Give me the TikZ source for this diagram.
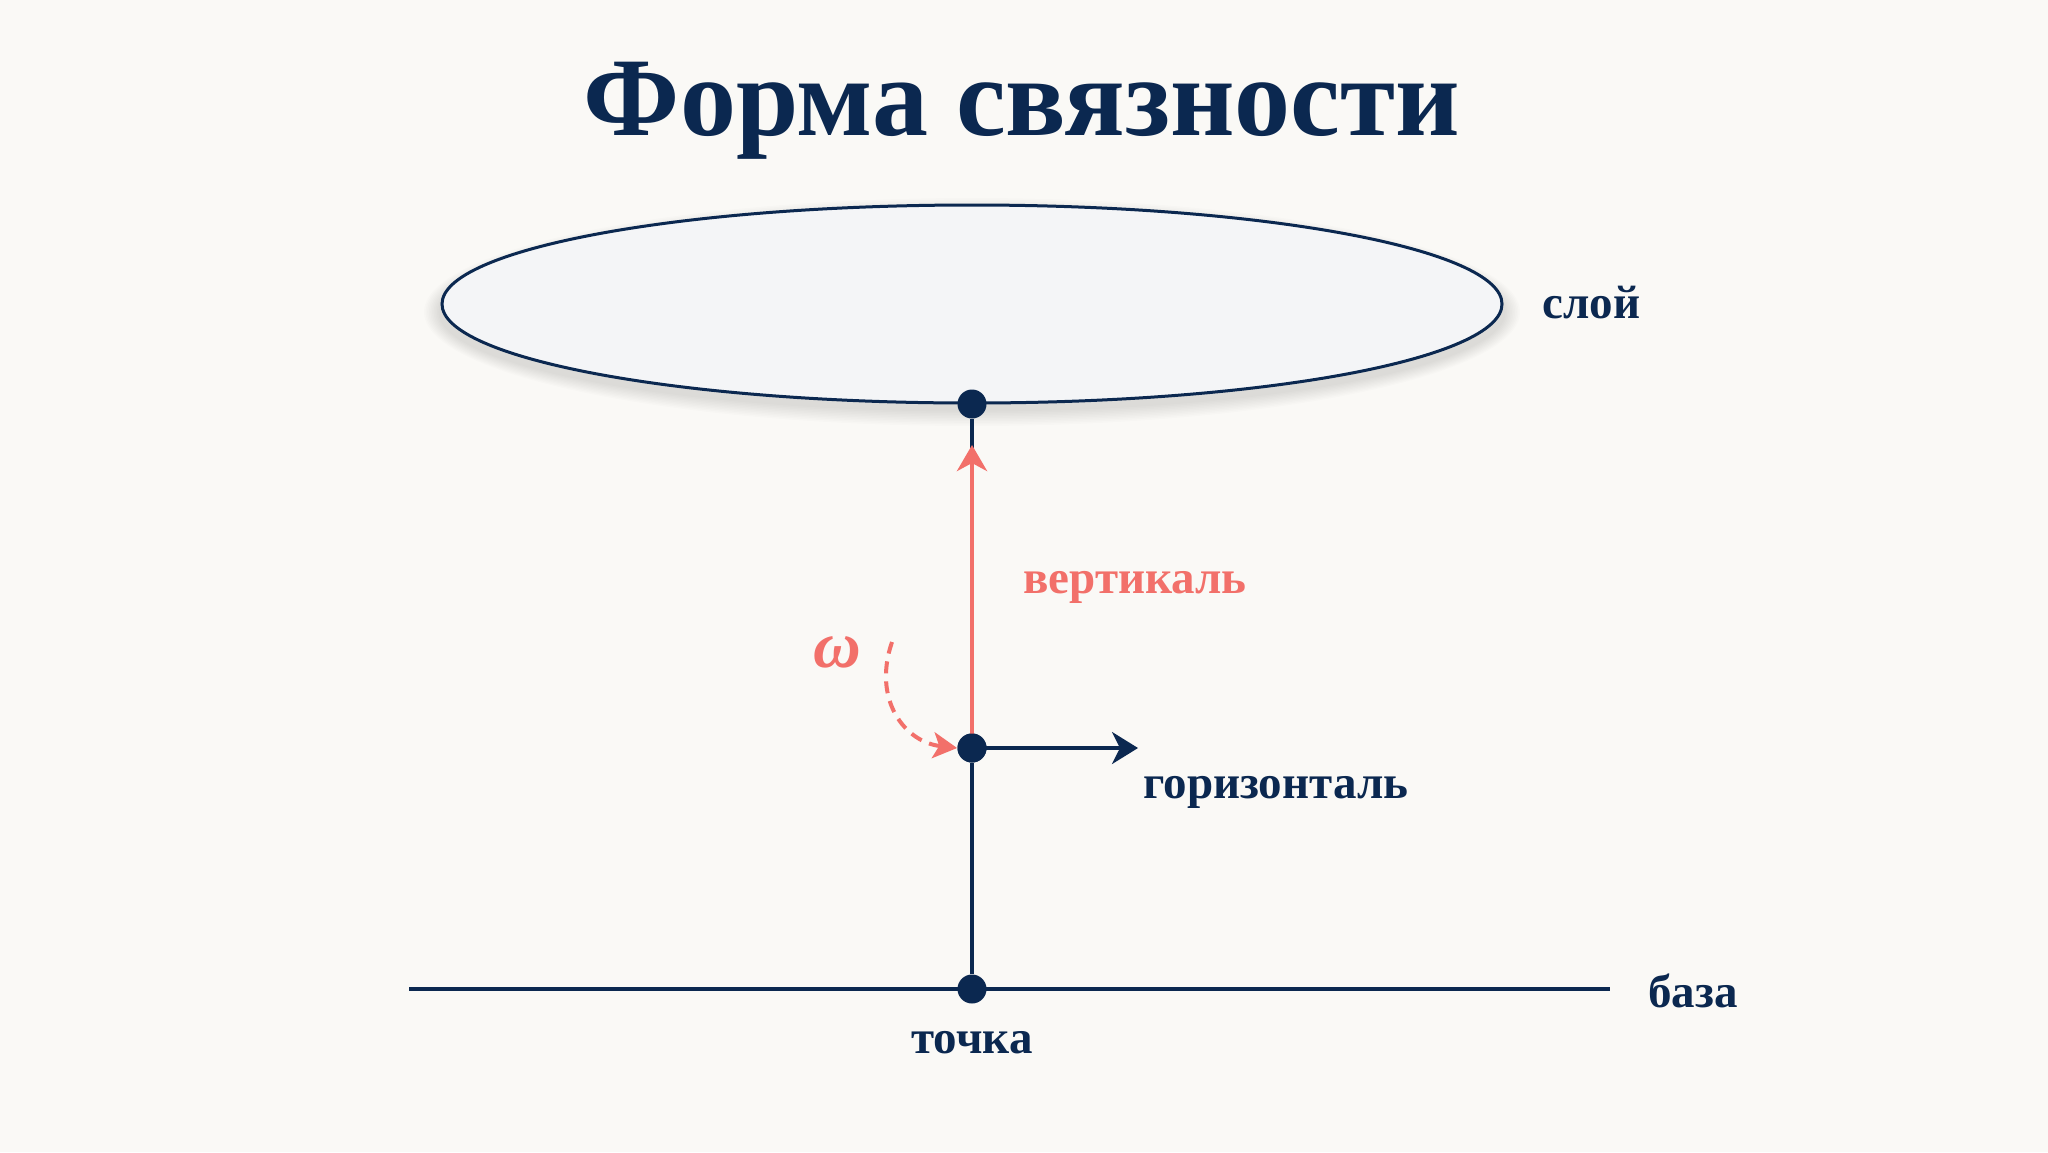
\documentclass[tikz,border=0pt]{standalone}
\usepackage{fontspec}
\setmainfont{Liberation Serif}
\usetikzlibrary{arrows.meta,shapes.geometric}
\definecolor{navy}{HTML}{0B2850}
\definecolor{coral}{HTML}{F2706A}
\definecolor{bgc}{HTML}{FAF9F6}
\definecolor{fibre}{HTML}{F4F5F7}
\tikzset{
  dot/.style={circle,fill=navy,inner sep=0pt,minimum size=14.5pt},
  lbl/.style={inner sep=0pt,text=navy,font=\fontsize{23.5}{28}\selectfont\bfseries},
  navyline/.style={draw=navy,line width=1.6pt},
  tipN/.style={-{Stealth[length=13pt,width=16pt,inset=4pt]}},
}
\begin{document}
\begin{tikzpicture}[x=0.5pt,y=-0.5pt]
\fill[bgc] (0,0) rectangle (2048,1152);
\useasboundingbox (0,0) rectangle (2048,1152);
% title
\node[inner sep=0pt,anchor=base,text=navy,font=\fontsize{56}{64}\selectfont\bfseries] (title) at (1022,135) {Форма связности};
% soft shadow of the fibre
\foreach \i in {0,...,9}{
  \fill[black,opacity=0.012] (972,312) ellipse[x radius={(548-1.6*\i)*0.5pt}, y radius={(114-1.6*\i)*0.5pt}];
}
% fibre
\node[ellipse,draw=navy,line width=1.5pt,fill=fibre,minimum width=530pt,minimum height=99pt,inner sep=0pt] (fibre) at (972,304) {};
\node[lbl,anchor=base west] (sloy) at (1542,318) {слой};
% base
\coordinate (bl) at (409,989);
\coordinate (br) at (1610,989);
\draw[navyline,line width=2pt] (bl) -- (br);
\node[lbl,anchor=base west] (baza) at (1648,1007) {база};
% dots
\node[dot] (top) at (972,404) {};
\node[dot] (mid) at (972,748) {};
\node[dot] (pt) at (972,989) {};
% vertical line
\draw[navyline] (top) -- (mid);
\draw[navyline] (mid) -- (pt);
% vertical arrow
\coordinate (vt) at (972,445);
\draw[coral,line width=2.3pt,-{Stealth[length=13pt,width=15pt,inset=4pt]}] (mid.center) -- (vt);
\node[dot] at (mid) {};
\node[lbl,anchor=base west,text=coral] (vert) at (1023,593) {вертикаль};
% horizontal arrow
\coordinate (ht) at (1138,748);
\draw[navyline,line width=1.8pt,tipN] (mid.center) -- (ht);
\node[lbl,anchor=base west] (hor) at (1143,798) {горизонталь};
\node[lbl,anchor=base] (tochka) at (972,1053) {точка};
% omega
\node[inner sep=0pt,text=coral,font=\fontsize{33}{36}\selectfont\bfseries\itshape] (om) at (837,652) {ω};
\coordinate (os) at (892,642);
\draw[coral,line width=2pt,dash pattern=on 6pt off 4pt,-{Stealth[length=12pt,width=13pt,inset=3pt]}]
  (os) .. controls (872,700) and (905,742) .. (mid.west);
\end{tikzpicture}
\end{document}
